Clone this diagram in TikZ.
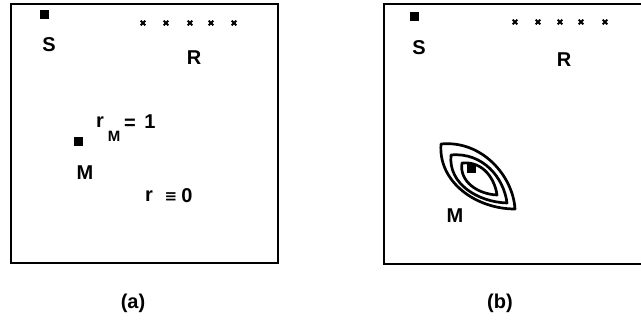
\documentclass[tikz,border=0pt]{standalone}
\usepackage{fontspec}
\setmainfont{Liberation Sans}
\newfontfamily\symf{DejaVu Sans}
\begin{document}
\begin{tikzpicture}[x=1pt,y=-1pt,
  lbl/.style={font=\fontsize{20}{22}\selectfont\bfseries, inner sep=0pt},
  sub/.style={font=\fontsize{15}{17}\selectfont\bfseries, inner sep=0pt},
  frame/.style={line width=2pt},
  pt/.style={fill=black},
  crs/.style={line width=1.8pt},
  contour/.style={line width=2.7pt, line join=round}]
\useasboundingbox (0,0) rectangle (641,323);
\clip (0,0) rectangle (641,323);
\fill[white] (0,0) rectangle (641,323);
% panel (a)
\draw[frame] (11,4) rectangle (278,263);
\fill[pt] (40,10) rectangle (49,19);
\node[lbl] (Sa) at (49,45) {S};
\foreach \x in {143,166,190,211,234}{
  \draw[crs] (\x-2.3,20.7) -- (\x+2.3,25.3) (\x-2.3,25.3) -- (\x+2.3,20.7);}
\node[lbl] (Ra) at (194,58) {R};
\fill[pt] (74,137) rectangle (83,146);
\node[lbl] (Ma) at (85,173) {M};
\node[lbl] (rMr) at (100,122) {r};
\node[sub] (rMs) at (114,136) {M};
\node[lbl] (rMe) at (130,124) {=};
\node[lbl] (rMo) at (150,122) {1};
\node[lbl] (r0r) at (149,196) {r};
\node[lbl] (r0e) at (171,197) {\symf\bfseries\fontsize{15}{17}\selectfont ≡};
\node[lbl] (r0o) at (187,196) {0};
\node[lbl] (capa) at (133,303) {(a)};
% panel (b)
\draw[frame] (384,4) rectangle (660,264);
\fill[pt] (410,12) rectangle (419,21);
\node[lbl] (Sb) at (419,48) {S};
\foreach \x in {515,538,560,581,605}{
  \draw[crs] (\x-2.3,19.7) -- (\x+2.3,24.3) (\x-2.3,24.3) -- (\x+2.3,19.7);}
\node[lbl] (Rb) at (564,60) {R};
\draw[contour] (441,144) .. controls (482,140) and (513,176) .. (515,209)
               .. controls (476,209) and (438,182) .. cycle;
\draw[contour] (451,155) .. controls (483,152) and (504,178) .. (507,203)
               .. controls (478,202) and (448,184) .. cycle;
\draw[contour] (462,163) .. controls (484,161) and (495,180) .. (497,195)
               .. controls (477,194) and (459,181) .. cycle;
\fill[pt] (467,164) rectangle (476,173);
\node[lbl] (Mb) at (455,216) {M};
\node[lbl] (capb) at (500,303) {(b)};
\end{tikzpicture}
\end{document}
